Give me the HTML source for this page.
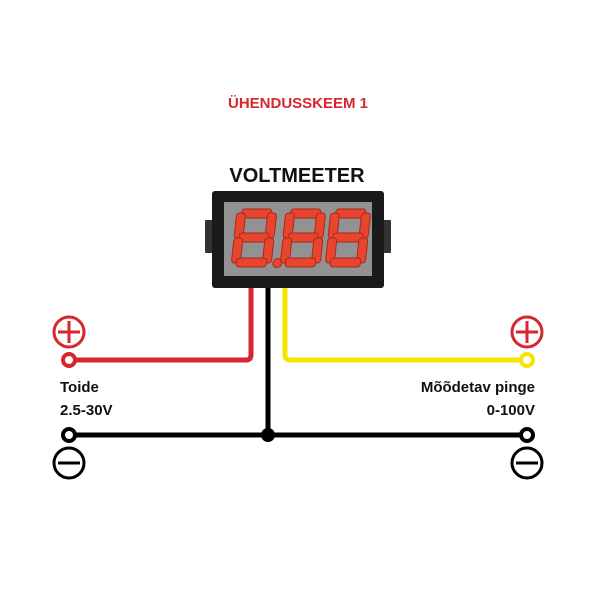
<!DOCTYPE html>
<html><head><meta charset="utf-8"><style>
html,body{margin:0;padding:0;background:#fff;}
svg{display:block}
text{font-family:"Liberation Sans",sans-serif;font-weight:bold;}
</style></head><body>
<svg width="600" height="600" viewBox="0 0 600 600" xmlns="http://www.w3.org/2000/svg">
<rect width="600" height="600" fill="#fff"/>
<text x="298" y="108" text-anchor="middle" font-size="15" fill="#d8262e">ÜHENDUSSKEEM 1</text>
<text x="297" y="182" text-anchor="middle" font-size="20" fill="#111">VOLTMEETER</text>
<rect x="205" y="220" width="10" height="33" fill="#333" rx="1"/>
<rect x="381" y="220" width="10" height="33" fill="#333" rx="1"/>
<rect x="212" y="191" width="172" height="97" rx="3" fill="#1a1a1a"/>
<rect x="224" y="202" width="148" height="74" fill="#929292"/>
<defs>
<g id="dg">
    <rect x="5" y="0" width="30" height="9" rx="3"/>
    <rect x="0" y="4" width="9" height="25" rx="3"/>
    <rect x="31" y="4" width="9" height="25" rx="3"/>
    <rect x="5" y="24" width="30" height="9" rx="3"/>
    <rect x="0" y="29" width="9" height="25" rx="3"/>
    <rect x="31" y="29" width="9" height="25" rx="3"/>
    <rect x="5" y="49" width="30" height="9" rx="3"/>
</g>
</defs>
<g fill="#e8452f" stroke="#a8281a" stroke-width="1" transform="skewX(-6) translate(23,0)">
  <use href="#dg" x="236" y="209"/>
  <circle cx="282" cy="263" r="4.5"/>
  <use href="#dg" x="285" y="209"/>
  <use href="#dg" x="330" y="209"/>
</g>
<path d="M75 360 H246 Q251 360 251 355 V288" fill="none" stroke="#d8262e" stroke-width="5"/>
<path d="M521 360 H290 Q285 360 285 355 V288" fill="none" stroke="#f5e400" stroke-width="5"/>
<line x1="268" y1="288" x2="268" y2="435" stroke="#000" stroke-width="5"/>
<line x1="75" y1="435" x2="521" y2="435" stroke="#000" stroke-width="5"/>
<circle cx="268" cy="435" r="7" fill="#000"/>
<circle cx="69" cy="360" r="6" fill="#fff" stroke="#d8262e" stroke-width="4"/>
<circle cx="527" cy="360" r="6" fill="#fff" stroke="#f5e400" stroke-width="4"/>
<circle cx="69" cy="435" r="6" fill="#fff" stroke="#000" stroke-width="4"/>
<circle cx="527" cy="435" r="6" fill="#fff" stroke="#000" stroke-width="4"/>
<g stroke="#d8262e" stroke-width="3" fill="none">
  <circle cx="69" cy="332" r="15"/><path d="M58 332 H80 M69 321 V343"/>
  <circle cx="527" cy="332" r="15"/><path d="M516 332 H538 M527 321 V343"/>
</g>
<g stroke="#000" stroke-width="3" fill="none">
  <circle cx="69" cy="463" r="15"/><path d="M58 463 H80"/>
  <circle cx="527" cy="463" r="15"/><path d="M516 463 H538"/>
</g>
<text x="60" y="392" font-size="15" fill="#111">Toide</text>
<text x="60" y="415" font-size="15" fill="#111">2.5-30V</text>
<text x="535" y="392" font-size="15" fill="#111" text-anchor="end">Mõõdetav pinge</text>
<text x="535" y="415" font-size="15" fill="#111" text-anchor="end">0-100V</text>
</svg>
</body></html>
